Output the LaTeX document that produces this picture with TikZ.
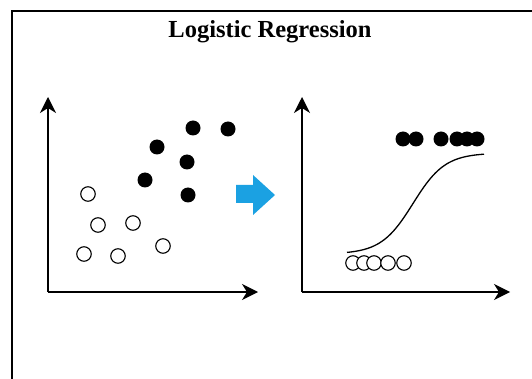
\documentclass[tikz,border=0pt]{standalone}
\usepackage{fontspec}
\setmainfont{Liberation Serif}
\usetikzlibrary{positioning,arrows.meta}
\definecolor{arrowblue}{HTML}{1BA1E2}

\begin{document}
\begin{tikzpicture}[x=1pt,y=-1pt,
  yes/.style={circle,fill=black,inner sep=0pt,minimum size=15pt},
  no/.style={circle,draw=black,line width=1.1pt,fill=white,inner sep=0pt,
             minimum size=14.5pt},
  axis/.style={line width=1.4pt,-{Stealth[length=16pt,width=16pt,inset=5pt]}},
  frame/.style={line width=1.5pt}
]
  \useasboundingbox (0,0) rectangle (532,379);
  \draw[frame] (12,379) -- (12,11) -- (532,11);
  \node[font=\bfseries\fontsize{24.5}{30}\selectfont] (title) at (270,32)
    {Logistic Regression};

  % left: raw data
  \coordinate (lo) at (48,292);
  \coordinate (ltop) at (48,97);
  \coordinate (lright) at (258,292);
  \draw[axis] (lo) -- (ltop);
  \draw[axis] (lo) -- (lright);
  \foreach \x/\y [count=\i] in {193/128,228/129,157/147,187/162,145/180,188/195}
    \node[yes] (a\i) at (\x,\y) {};
  \foreach \x/\y [count=\i] in {88/194,98/225,133/223,163/246,84/254,118/256}
    \node[no] (b\i) at (\x,\y) {};

  \fill[arrowblue] (236,185) -- (253,185) -- (253,175) -- (275,195)
    -- (253,215) -- (253,203) -- (236,203) -- cycle;

  % right: fitted curve
  \coordinate (ro) at (302,292);
  \coordinate (rtop) at (302,97);
  \coordinate (rright) at (510,292);
  \draw[axis] (ro) -- (rtop);
  \draw[axis] (ro) -- (rright);
  \draw[line width=1.3pt] plot[domain=347:484,samples=60,smooth]
    ({\x},{254-101/(1+exp(-(\x-413)/16))});
  \foreach \x [count=\i] in {403,416,441,457,467,477}
    \node[yes] (c\i) at (\x,139) {};
  \foreach \x [count=\i] in {353,364,374,388,404}
    \node[no] (d\i) at (\x,263) {};
\end{tikzpicture}
\end{document}
